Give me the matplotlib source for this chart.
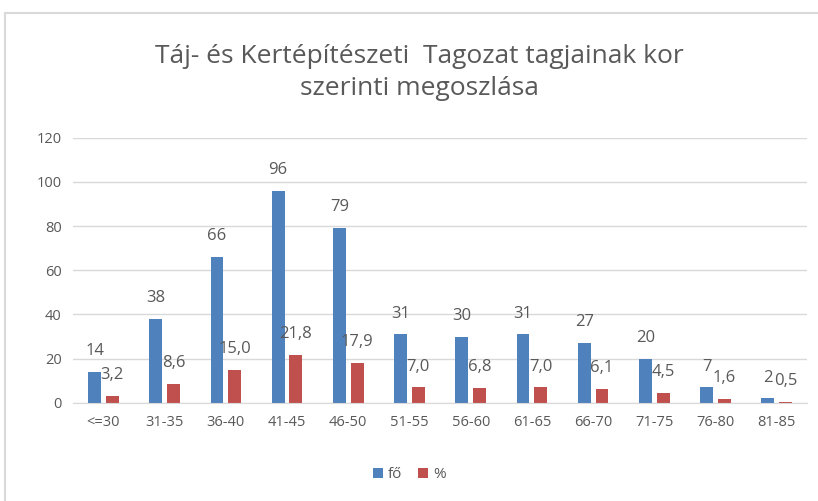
import matplotlib.pyplot as plt
import numpy as np
from matplotlib.patches import Rectangle

categories = ['<=30', '31-35', '36-40', '41-45', '46-50', '51-55',
              '56-60', '61-65', '66-70', '71-75', '76-80', '81-85']
fo = [14, 38, 66, 96, 79, 31, 30, 31, 27, 20, 7, 2]
szazalek = [3.2, 8.6, 15.0, 21.8, 17.9, 7.0, 6.8, 7.0, 6.1, 4.5, 1.6, 0.5]

plt.rcParams['font.family'] = ['Open Sans', 'DejaVu Sans']
text_color = '#595959'

fig = plt.figure(figsize=(8.18, 5.01), dpi=100)
ax = fig.add_axes([0.089, 0.196, 0.898, 0.529])

x = np.arange(len(categories))
w = 0.21
b1 = ax.bar(x - 0.145, fo, w, color='#4F81BD', label='fő')
b2 = ax.bar(x + 0.145, szazalek, w, color='#C0504D', label='%')

for rect, v in zip(b1, fo):
    ax.annotate(str(v), (rect.get_x() + rect.get_width() / 2, rect.get_height()),
                xytext=(0, 15), textcoords='offset points', ha='center', va='center',
                fontsize=12, color=text_color)
for rect, v in zip(b2, szazalek):
    ax.annotate(f'{v:.1f}'.replace('.', ','), (rect.get_x() + rect.get_width() / 2, rect.get_height()),
                xytext=(0, 15), textcoords='offset points', ha='center', va='center',
                fontsize=12, color=text_color)

ax.set_xlim(-0.5, len(categories) - 0.5)
ax.set_ylim(0, 120)
ax.set_yticks(range(0, 121, 20))
ax.set_xticks(x)
ax.set_xticklabels(categories)
ax.tick_params(axis='both', length=0, labelsize=10.5, colors=text_color)
ax.tick_params(axis='x', pad=9)
ax.tick_params(axis='y', pad=8)
ax.grid(axis='y', color='#D9D9D9', linewidth=1)
ax.set_axisbelow(True)
for s in ['top', 'right', 'left']:
    ax.spines[s].set_visible(False)
ax.spines['bottom'].set_color('#D9D9D9')

fig.text(0.513, 0.855, 'Táj- és Kertépítészeti  Tagozat tagjainak kor\nszerinti megoszlása',
         ha='center', va='center', fontsize=19, color=text_color, linespacing=1.4)

fig.legend(handles=[b1, b2], loc='center', bbox_to_anchor=(0.5, 0.052), ncol=2,
           frameon=False, fontsize=11, labelcolor=text_color, handlelength=0.7,
           handleheight=0.7, handletextpad=0.3, columnspacing=1.0)

fig.patches.append(Rectangle((5 / 818, -0.01), 1.0, 1 - 13 / 501 + 0.01, transform=fig.transFigure,
                             fill=False, edgecolor='#D9D9D9', linewidth=1.5))

fig.savefig('out.png', dpi=100)
